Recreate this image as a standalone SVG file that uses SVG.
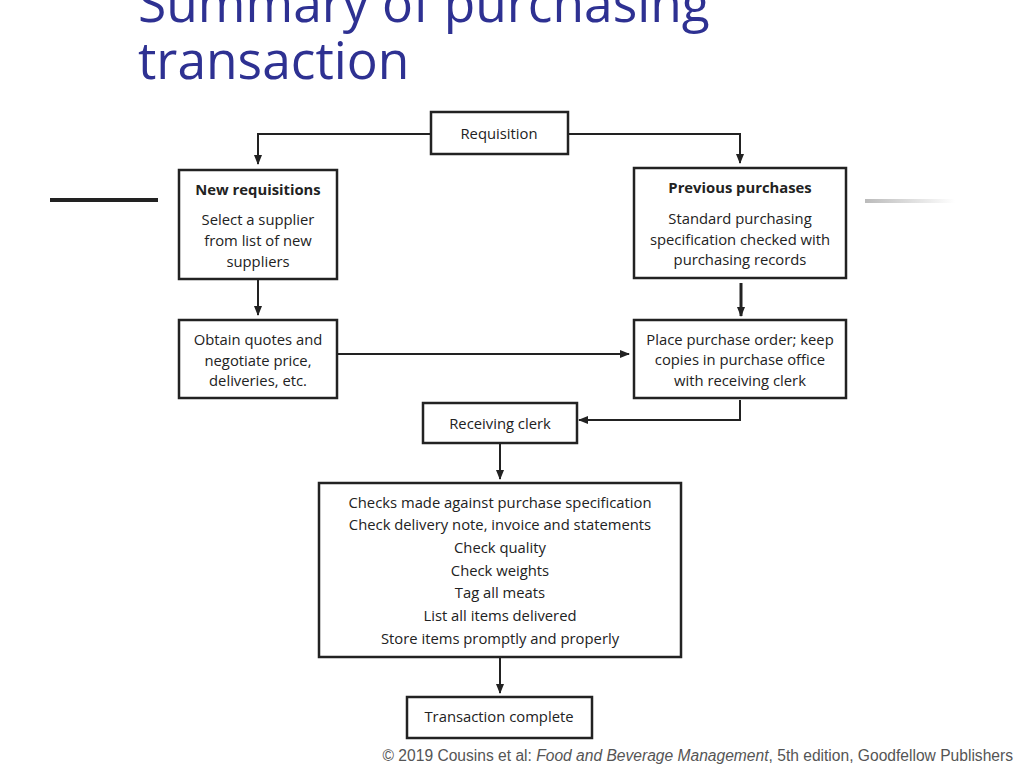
<svg xmlns="http://www.w3.org/2000/svg" width="1024" height="768" viewBox="0 0 1024 768">
<defs>
<marker id="ah" markerWidth="10" markerHeight="10" refX="9" refY="5" orient="auto" markerUnits="userSpaceOnUse"><path d="M0,1 L10,5 L0,9 Z" fill="#222"/></marker>
<linearGradient id="g" x1="0" x2="1"><stop offset="0" stop-color="#bbb"/><stop offset="1" stop-color="#fff"/></linearGradient>
<style>
.b{fill:#fff;stroke:#222;stroke-width:2.5}
.t{font-family:"Open Sans",sans-serif;font-size:14.8px;fill:#222;text-anchor:middle}
.h{font-weight:bold}
.c{fill:none;stroke:#222;stroke-width:2}
</style>
</defs>
<rect width="1024" height="768" fill="#fff"/>
<text x="138" y="22" font-family="'Open Sans',sans-serif" font-size="51.5" fill="#2e3192">Summary of purchasing</text>
<text x="138" y="79" font-family="'Open Sans',sans-serif" font-size="51.5" fill="#2e3192">transaction</text>
<rect x="50" y="198" width="108" height="4" fill="#222"/>
<rect x="865" y="199" width="90" height="4" fill="url(#g)"/>
<g id="connectors">
<path class="c" d="M431,134 H258 V164" marker-end="url(#ah)"/>
<path class="c" d="M568,134 H740 V163" marker-end="url(#ah)"/>
<path class="c" d="M258,280 V315" marker-end="url(#ah)"/>
<path class="c" style="stroke-width:3" d="M741,283 V316" marker-end="url(#ah)"/>
<path class="c" d="M338,354 H629" marker-end="url(#ah)"/>
<path class="c" d="M740,400 V420 H579" marker-end="url(#ah)"/>
<path class="c" d="M500,444 V479" marker-end="url(#ah)"/>
<path class="c" d="M500,658 V693" marker-end="url(#ah)"/>
</g>
<g id="requisition"><rect class="b" x="431" y="112" width="137" height="42"/><text class="t" x="499" y="139">Requisition</text></g>
<g id="new"><rect class="b" x="179" y="170" width="158" height="109"/><text class="t h" x="258" y="195">New requisitions</text><text class="t" x="258" y="225">Select a supplier</text><text class="t" x="258" y="246">from list of new</text><text class="t" x="258" y="267">suppliers</text></g>
<g id="previous"><rect class="b" x="634" y="168" width="212" height="110"/><text class="t h" x="740" y="193">Previous purchases</text><text class="t" x="740" y="224">Standard purchasing</text><text class="t" x="740" y="245">specification checked with</text><text class="t" x="740" y="265">purchasing records</text></g>
<g id="quotes"><rect class="b" x="179" y="320" width="158" height="78"/><text class="t" x="258" y="345">Obtain quotes and</text><text class="t" x="258" y="366">negotiate price,</text><text class="t" x="258" y="386">deliveries, etc.</text></g>
<g id="order"><rect class="b" x="634" y="320" width="212" height="78"/><text class="t" x="740" y="345">Place purchase order; keep</text><text class="t" x="740" y="365">copies in purchase office</text><text class="t" x="740" y="386">with receiving clerk</text></g>
<g id="clerk"><rect class="b" x="423" y="403" width="154" height="40"/><text class="t" x="500" y="429">Receiving clerk</text></g>
<g id="checks"><rect class="b" x="319" y="483" width="362" height="174"/>
<text class="t" x="500" y="508">Checks made against purchase specification</text>
<text class="t" x="500" y="530">Check delivery note, invoice and statements</text>
<text class="t" x="500" y="553">Check quality</text>
<text class="t" x="500" y="576">Check weights</text>
<text class="t" x="500" y="598">Tag all meats</text>
<text class="t" x="500" y="621">List all items delivered</text>
<text class="t" x="500" y="644">Store items promptly and properly</text></g>
<g id="complete"><rect class="b" x="407" y="697" width="185" height="41"/><text class="t" x="499" y="722">Transaction complete</text></g>
<text x="1013" y="761" font-family="'Liberation Sans',sans-serif" font-size="15.6" fill="#555" text-anchor="end">© 2019 Cousins et al: <tspan font-style="italic">Food and Beverage Management</tspan>, 5th edition, Goodfellow Publishers</text>
</svg>
